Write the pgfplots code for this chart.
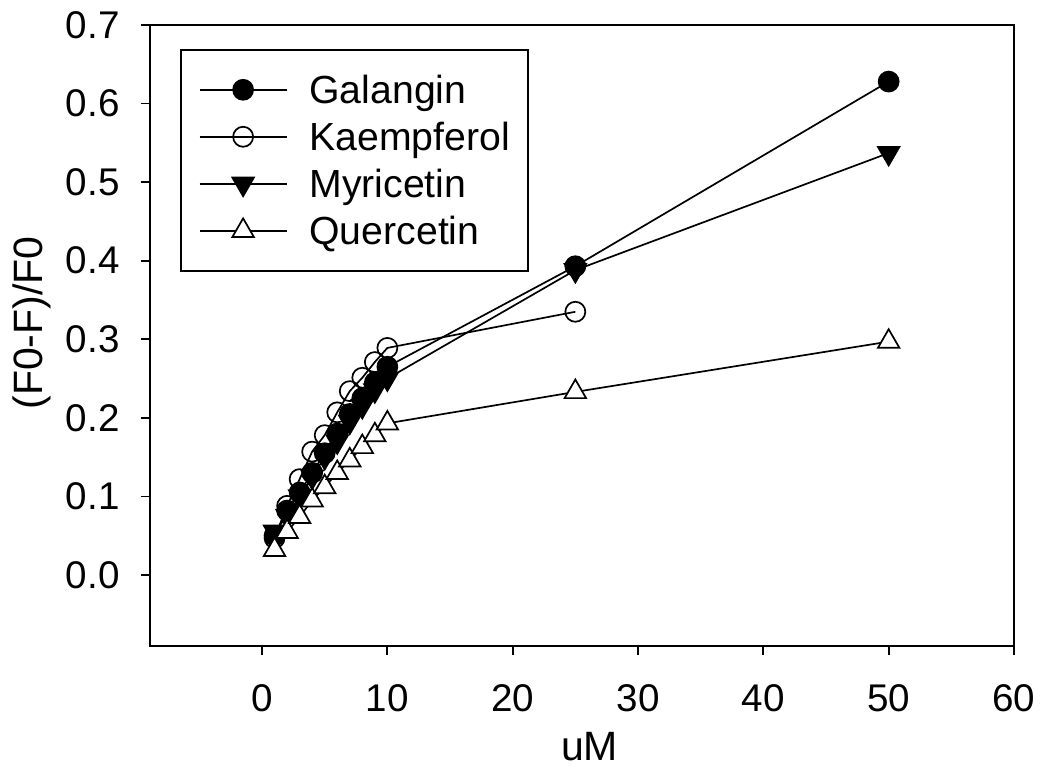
\documentclass[border=0pt]{standalone}
\usepackage{fontspec}
\setmainfont{Liberation Sans}
\usepackage{pgfplots}
\pgfplotsset{compat=1.18}
\begin{document}
\begin{tikzpicture}
\begin{axis}[
  scale only axis,
  width=432pt, height=310.5pt,
  xmin=-8.94, xmax=60, ymin=-0.0904, ymax=0.7,
  xtick={0,10,...,60}, ytick={0,0.1,...,0.7},
  xtick pos=bottom, ytick pos=left,
  tick align=outside, major tick length=4.5pt,
  tick style={black, line width=0.9pt},
  axis line style={line width=1pt},
  /pgf/number format/assume math mode=true,
  yticklabel style={/pgf/number format/fixed, /pgf/number format/fixed zerofill, /pgf/number format/precision=1},
  xticklabel style={/pgf/number format/fixed},
  ticklabel style={font=\fontsize{19.3}{23}\selectfont, inner sep=0pt},
  xticklabel shift=14.5pt, yticklabel shift=10.5pt,
  xlabel={uM}, ylabel={(F0-F)/F0},
  label style={font=\fontsize{20.5}{24}\selectfont},
  xlabel style={at={(axis description cs:0.5087,-0.1626)}, anchor=center},
  ylabel style={at={(axis description cs:-0.1366,0.52)}, anchor=center},
  legend style={at={(axis description cs:0.0347,0.9614)}, anchor=north west, draw=black, line width=0.8pt,
    font=\fontsize{19.6}{23}\selectfont, row sep=0pt, column sep=11pt, inner xsep=9pt, inner ysep=8.25pt,
    nodes={inner sep=0pt, text height=18.75pt, text depth=4.75pt}},
  legend cell align=left,
  legend image code/.code={\draw[mark repeat=2,mark phase=2] plot coordinates {(0pt,0pt)(21.75pt,0pt)(43.5pt,0pt)};},
  every axis plot/.append style={black, line width=0.85pt},
]
\addplot[mark=*, mark size=5pt, mark options={fill=black}] coordinates {
 (1,0.050) (2,0.082) (3,0.105) (4,0.130) (5,0.155) (6,0.180) (7,0.205) (8,0.225) (9,0.245) (10,0.265) (25,0.393) (50,0.628)};
\addlegendentry{Galangin}
\addplot[mark=o, mark size=5pt, mark options={fill=white}] coordinates {
 (1,0.047) (2,0.088) (3,0.122) (4,0.157) (5,0.178) (6,0.207) (7,0.234) (8,0.251) (9,0.271) (10,0.289) (25,0.335)};
\addlegendentry{Kaempferol}
\addplot[mark=triangle*, mark size=6.2pt, mark options={fill=black, rotate=180}] coordinates {
 (1,0.055) (2,0.075) (3,0.100) (4,0.125) (5,0.150) (6,0.170) (7,0.195) (8,0.215) (9,0.235) (10,0.250) (25,0.388) (50,0.537)};
\addlegendentry{Myricetin}
\addplot[mark=triangle*, mark size=6.2pt, mark options={fill=white}] coordinates {
 (1,0.032) (2,0.055) (3,0.074) (4,0.095) (5,0.112) (6,0.130) (7,0.146) (8,0.163) (9,0.178) (10,0.193) (25,0.233) (50,0.297)};
\addlegendentry{Quercetin}
\end{axis}
\pgfresetboundingbox
\path ([shift={(-75pt,-60.5pt)}]current axis.south west) rectangle ([shift={(13.5pt,12.5pt)}]current axis.north east);
\end{tikzpicture}
\end{document}
